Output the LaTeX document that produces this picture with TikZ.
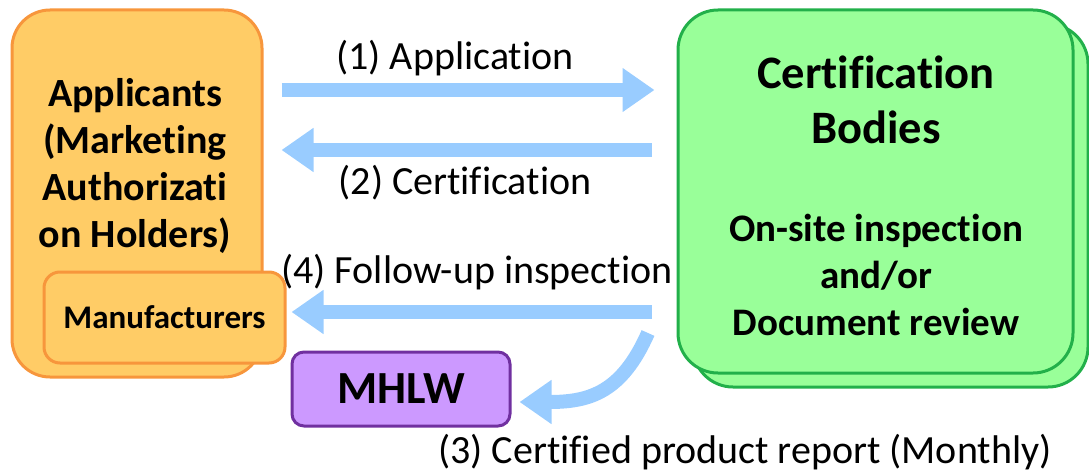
\documentclass[tikz,border=0pt]{standalone}
\usepackage{fontspec}
\setmainfont{Carlito}[Ligatures = NoCommon]
\usetikzlibrary{arrows.meta}

\definecolor{appfill}{HTML}{FFCC66}
\definecolor{appline}{HTML}{F7963C}
\definecolor{cbfill}{HTML}{99FF99}
\definecolor{cbline}{HTML}{22B04A}
\definecolor{mhfill}{HTML}{CC99FF}
\definecolor{mhline}{HTML}{7030A0}
\definecolor{flowblue}{HTML}{99CCFF}

\begin{document}
\begin{tikzpicture}[x = 1pt, y = -1pt,
                    appbox/.style = {draw = appline, fill = appfill, line width = 3pt, rounded corners = 38pt, inner sep = 0pt},
                    cbbox/.style = {draw = cbline, fill = cbfill, line width = 3pt, rounded corners = 40pt, inner sep = 0pt,
                                    minimum width = 395pt, minimum height = 363pt},
                    flow/.style = {draw = flowblue, line width = 14pt, -{Triangle[length = 32pt, width = 42pt]}},
                    big/.style = {font = \fontsize{40}{47}\selectfont\bfseries, align = center},
                    lbl/.style = {font = \fontsize{40}{46}\selectfont}]
  \useasboundingbox (0, 0) rectangle (1089, 476);

  % applicants and manufacturers
  \node [appbox, minimum width = 250pt, minimum height = 367pt] (app) at (137, 193.5) {};
  \node [big] (applbl) at (135, 166) {Applicants\\(Marketing\\Authorizati\\on Holders)};
  \node [appbox, rounded corners = 16pt, minimum width = 241pt, minimum height = 91pt,
         font = \fontsize{33}{38}\selectfont\bfseries] (manu) at (164.5, 317.5) {Manufacturers};

  % certification bodies (two stacked boxes)
  \node [cbbox] (cbback) at (890.5, 205.5) {};
  \node [cbbox] (cb) at (875.5, 191.5) {};
  \node [big, font = \fontsize{46.5}{55}\selectfont\bfseries] (cbtitle) at (876, 100) {Certification\\Bodies};
  \node [big, font = \fontsize{39}{47}\selectfont\bfseries] (cbsub) at (876, 275) {On-site inspection\\and/or\\Document review};

  % ministry
  \node [draw = mhline, fill = mhfill, line width = 3pt, rounded corners = 12pt,
         minimum width = 218pt, minimum height = 74pt,
         font = \fontsize{46}{52}\selectfont\bfseries] (mhlw) at (401, 389) {MHLW};

  % flows
  \draw [flow] ([xshift = 18pt]app.east |- 0, 90) -- ([xshift = -22pt]cb.west |- 0, 90);
  \draw [flow] ([xshift = -25pt]cb.west |- 0, 150) -- ([xshift = 18pt]app.east |- 0, 150);
  \draw [flow] ([xshift = -25pt]cb.west |- 0, 312) -- ([xshift = 5pt]manu.east |- 0, 312);
  \coordinate (rep) at (648, 333);
  \draw [flow] (rep) .. controls (622, 392) and (590, 402) .. ([xshift = 8pt]mhlw.east |- 0, 402);

  \node [lbl] (l1) at (455, 58) {(1) Application};
  \node [lbl] (l2) at (465, 183) {(2) Certification};
  \node [lbl] (l4) at (477, 272) {(4) Follow-up inspection};
  \node [lbl] (l3) at (745, 452) {(3) Certified product report (Monthly)};
\end{tikzpicture}
\end{document}
